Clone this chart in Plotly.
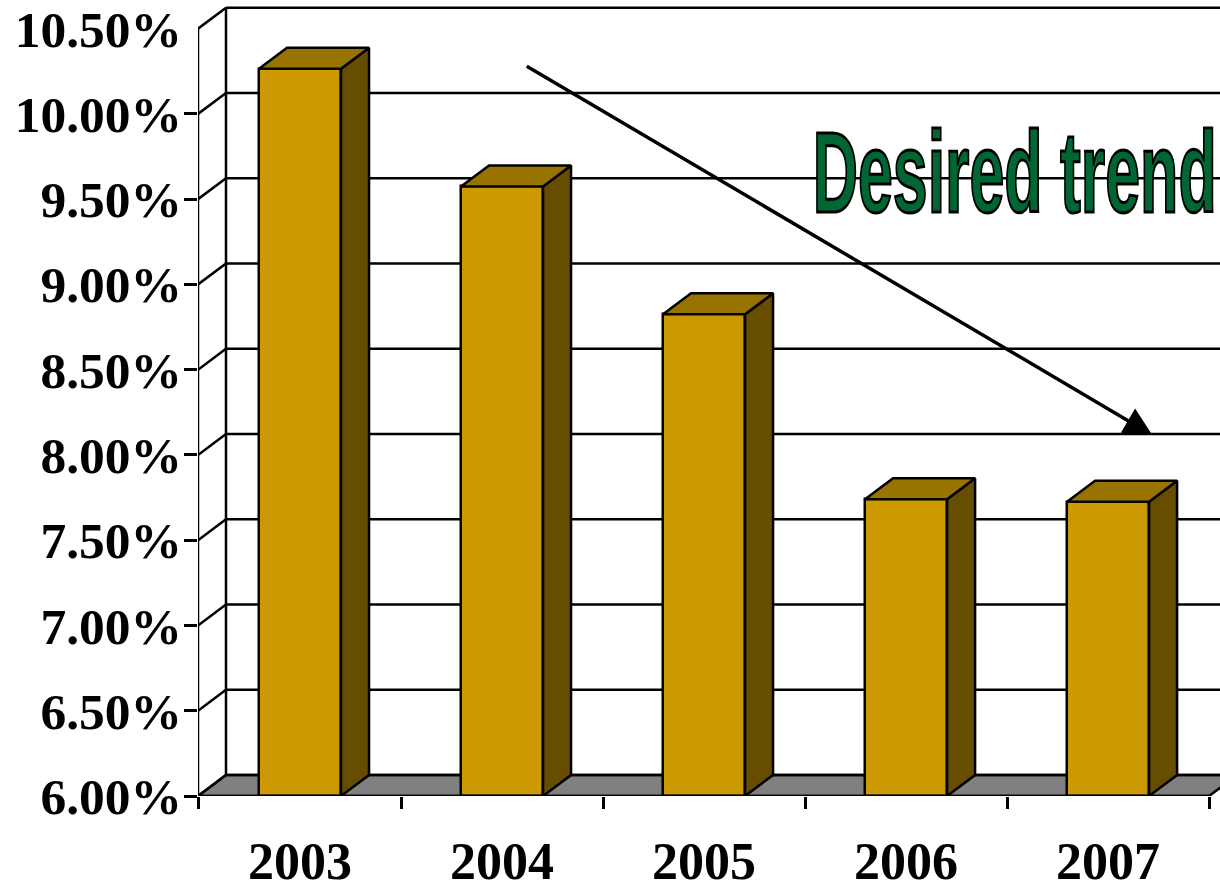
import plotly.graph_objects as go

years = ["2003", "2004", "2005", "2006", "2007"]
values = [10.265, 9.575, 8.825, 7.74, 7.725]
tick_values = [6.0, 6.5, 7.0, 7.5, 8.0, 8.5, 9.0, 9.5, 10.0, 10.5]
tick_labels = ["6.00%", "6.50%", "7.00%", "7.50%", "8.00%", "8.50%", "9.00%", "9.50%", "10.00%", "10.50%"]
category_edges = [-0.505, 0.5, 1.5, 2.5, 3.5, 4.5]

BAR_WIDTH = 0.406
DEPTH_X = 0.1386
DEPTH_Y = 0.123
BASE = 6.0
TOP = 10.5
LEFT = category_edges[0]
RIGHT = category_edges[-1]
X_RANGE = [LEFT, 4.554]
Y_RANGE = [BASE, 10.668]
FRONT, SIDE, CAP = "#CC9900", "#664D00", "#997300"
FLOOR = "#808080"
GREEN = "#006633"
LW = 2.5
X_FONT = dict(family="Liberation Serif", size=52, color="black", weight="bold")
Y_FONT = dict(family="Liberation Serif", size=51.5, color="black", weight="bold")

x_pos = list(range(len(years)))
fig = go.Figure()

# Floor and back wall, behind the bars
shapes = [dict(type="path", xref="x", yref="y", layer="below",
               path=f"M{LEFT},{BASE} L{LEFT+DEPTH_X},{BASE+DEPTH_Y} L{RIGHT+DEPTH_X},{BASE+DEPTH_Y} L{RIGHT},{BASE} Z",
               fillcolor=FLOOR, line=dict(color="black", width=LW))]
for t in tick_values:
    shapes.append(dict(type="line", xref="x", yref="y", layer="below", x0=LEFT, y0=t, x1=LEFT+DEPTH_X, y1=t+DEPTH_Y,
                       line=dict(color="black", width=LW)))
    shapes.append(dict(type="line", xref="x", yref="y", layer="below", x0=LEFT+DEPTH_X, y0=t+DEPTH_Y, x1=RIGHT+DEPTH_X, y1=t+DEPTH_Y,
                       line=dict(color="black", width=LW)))
shapes.append(dict(type="line", xref="x", yref="y", layer="below", x0=LEFT+DEPTH_X, y0=BASE+DEPTH_Y, x1=LEFT+DEPTH_X, y1=TOP+DEPTH_Y,
                   line=dict(color="black", width=LW)))

# Front faces
fig.add_trace(go.Bar(x=x_pos, y=[v - BASE for v in values], base=[BASE] * len(values), width=BAR_WIDTH,
                     marker=dict(color=FRONT, line=dict(color="black", width=LW)), cliponaxis=False,
                     hoverinfo="skip", showlegend=False))

# Side and top faces
for x, v in zip(x_pos, values):
    l, r = x - BAR_WIDTH / 2, x + BAR_WIDTH / 2
    fig.add_trace(go.Scatter(x=[r, r + DEPTH_X, r + DEPTH_X, r, r], y=[BASE, BASE + DEPTH_Y, v + DEPTH_Y, v, BASE],
                             mode="lines", fill="toself", fillcolor=SIDE, line=dict(color="black", width=LW),
                             hoverinfo="skip", showlegend=False))
    fig.add_trace(go.Scatter(x=[l, l + DEPTH_X, r + DEPTH_X, r, l], y=[v, v + DEPTH_Y, v + DEPTH_Y, v, v],
                             mode="lines", fill="toself", fillcolor=CAP, line=dict(color="black", width=LW),
                             hoverinfo="skip", showlegend=False))

# Front axis lines
fig.add_trace(go.Scatter(x=[LEFT, LEFT, RIGHT], y=[TOP, BASE, BASE], mode="lines", cliponaxis=False,
                         line=dict(color="black", width=LW), hoverinfo="skip", showlegend=False))

fig.update_layout(
    width=1220, height=884, margin=dict(l=198, r=0, t=0, b=88, autoexpand=False),
    paper_bgcolor="white", plot_bgcolor="white", shapes=shapes, bargap=0,
    xaxis=dict(range=X_RANGE, tickmode="array", tickvals=x_pos, ticktext=years, ticks="", automargin=False,
               tickfont=X_FONT, showgrid=False, zeroline=False, showline=False, ticklabelstandoff=30,
               minor=dict(tickmode="array", tickvals=category_edges, ticks="outside", ticklen=12, tickwidth=LW,
                          tickcolor="black", showgrid=False)),
    yaxis=dict(range=Y_RANGE, tickmode="array", tickvals=tick_values, ticktext=tick_labels, ticks="", automargin=False,
               tickfont=Y_FONT, showgrid=False, zeroline=False, showline=False, ticklabelstandoff=15,
               minor=dict(tickmode="array", tickvals=tick_values[:-1], ticks="outside", ticklen=13, tickwidth=LW,
                          tickcolor="black", showgrid=False)),
    annotations=[
        dict(x=4.218, y=8.118, ax=1.115, ay=10.285, xref="x", yref="y", axref="x", ayref="y", text="",
             showarrow=True, arrowhead=2, arrowsize=1.6, arrowwidth=3.5, arrowcolor="black"),
        dict(x=3.537, y=9.66, xref="x", yref="y", text="Desired trend", showarrow=False,
             font=dict(family="Liberation Sans", size=115, color=GREEN, weight="bold")),
    ],
)

post = """
document.body.style.margin='0';
document.querySelectorAll('.annotation-text').forEach(function(t){
  if(t.textContent==='Desired trend'){
    t.setAttribute('textLength','404');
    t.setAttribute('lengthAdjust','spacingAndGlyphs');
    t.style.stroke='#000';
    t.style.strokeWidth='3px';
  }
});
"""
fig.write_html("out.html", post_script=post, config=dict(displayModeBar=False))
